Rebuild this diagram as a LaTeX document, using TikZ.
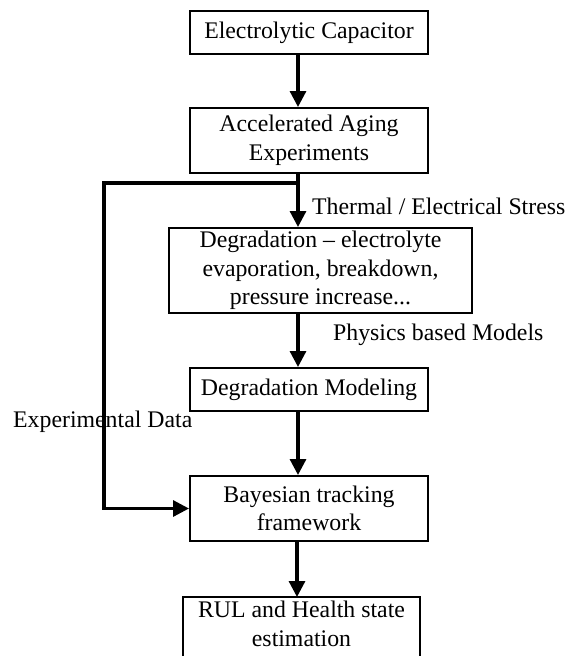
\documentclass[tikz,border=0pt]{standalone}
\usepackage{fontspec}
\setmainfont{Liberation Serif}
\usetikzlibrary{arrows.meta,calc}
\begin{document}
\begin{tikzpicture}[x=1pt,y=-1pt,
  box/.style={draw, line width=2pt, minimum width=238pt, align=center, inner sep=0pt,
    font=\fontsize{23.8}{28.5}\selectfont},
  lbl/.style={font=\fontsize{23.8}{28.5}\selectfont, anchor=west, inner sep=0pt},
  arr/.style={line width=3.2pt, -{Triangle[length=16pt,width=16pt]}}]
\useasboundingbox (0,0) rectangle (568,656);
\node[box, minimum height=43pt] (a) at (309,32.5) {Electrolytic Capacitor};
\node[box, minimum height=65pt] (b) at (309,140.5) {Accelerated Aging\\Experiments};
\node[box, minimum width=303pt, minimum height=85pt] (c) at (320.5,270.5) {Degradation -- electrolyte\\evaporation, breakdown,\\pressure increase...};
\node[box, minimum height=43pt] (d) at (309,389.5) {Degradation Modeling};
\node[box, minimum height=65pt] (e) at (309,508.5) {Bayesian tracking\\framework};
\draw[line width=2pt] (183,665) -- (183,597) -- (420,597) -- (420,665);
\coordinate (f) at (297,597);
\node[font=\fontsize{23.8}{28.5}\selectfont, align=center, inner sep=0pt] (ft) at (301.5,624) {RUL and Health state\\estimation};
\node[lbl] (l1) at (312,206) {Thermal / Electrical Stress};
\node[lbl] (l2) at (333,335) {Physics based Models};
\node[lbl] (l3) at (13,422) {Experimental Data};
\draw[arr] (a.south -| 298,0) -- (b.north -| 298,0);
\coordinate (j) at (298,183);
\coordinate (k) at (104,183);
\draw[arr] (b.south -| 298,0) -- (c.north -| 298,0);
\draw[arr] (j) -- (k) |- (e.west);
\draw[arr] (c.south -| 298,0) -- (d.north -| 298,0);
\draw[arr] (d.south -| 298,0) -- (e.north -| 298,0);
\draw[arr] (e.south -| f) -- (f);
\end{tikzpicture}
\end{document}
